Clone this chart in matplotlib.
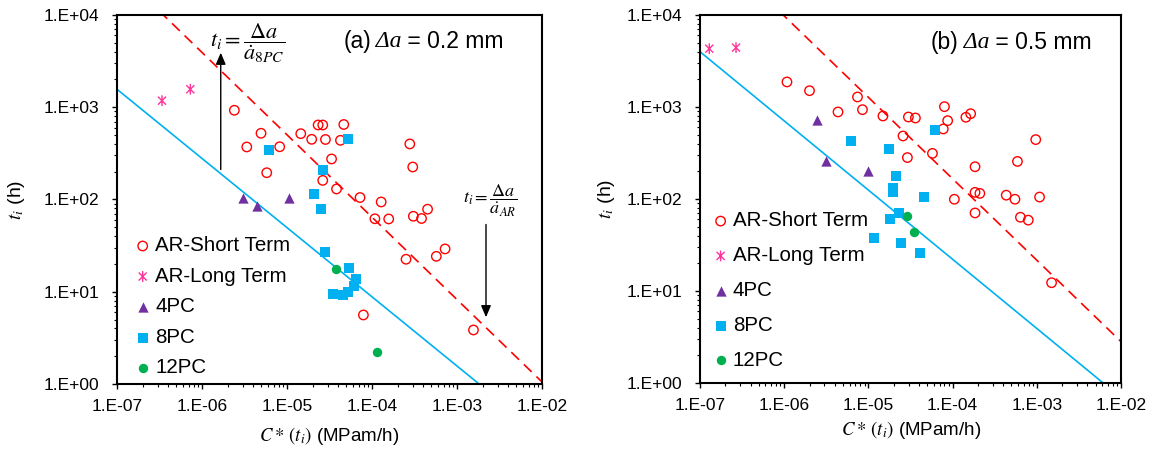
import numpy as np
import matplotlib.pyplot as plt
from matplotlib.path import Path
from matplotlib.ticker import LogLocator, FuncFormatter, NullFormatter

plt.rcParams['font.family'] = ['Liberation Sans', 'DejaVu Sans']
plt.rcParams['mathtext.fontset'] = 'stix'

# ---- (a) da = 0.2 mm ----
a_short_c = [2.40e-6, 4.94e-6, 3.36e-6, 8.2e-6, 5.77e-6, 1.45e-5, 1.95e-5, 2.32e-5, 2.63e-5, 2.83e-5,
             4.65e-5, 4.25e-5, 3.34e-5, 2.63e-5, 3.82e-5, 7.22e-5, 1.28e-4, 1.08e-4, 1.57e-4, 2.78e-4,
             3.01e-4, 3.06e-4, 3.82e-4, 4.50e-4, 2.51e-4, 5.70e-4, 7.23e-4, 7.91e-5, 1.56e-3]
a_short_t = [927, 522, 371, 373, 195, 517, 449, 642, 642, 447,
             650, 438, 275, 161, 130, 105, 94, 61.8, 61.5, 400,
             225, 65.8, 62.2, 78.5, 22.5, 24.2, 29.1, 5.6, 3.85]
a_long_c = [3.38e-7, 7.28e-7]
a_long_t = [1178, 1566]
a_4pc_c = [3.03e-6, 4.48e-6, 1.06e-5]
a_4pc_t = [103, 85.1, 104]
a_8pc_c = [6.14e-6, 5.22e-5, 2.62e-5, 2.08e-5, 2.51e-5, 2.83e-5, 5.36e-5, 6.49e-5, 6.14e-5, 5.26e-5,
           4.59e-5, 3.51e-5]
a_8pc_t = [344, 449, 207, 114, 79.5, 27.0, 17.9, 13.7, 11.5, 10.0, 9.2, 9.4]
a_12pc_c = [3.77e-5, 1.13e-4]
a_12pc_t = [17.5, 2.21]
# trend lines t = A * C^-m
a_ar_fit = (0.0172, 0.893)
a_8pc_fit = (0.0088, 0.75)

# ---- (b) da = 0.5 mm ----
b_short_c = [1.08e-6, 2.0e-6, 4.36e-6, 7.43e-6, 8.51e-6, 1.49e-5, 2.58e-5, 2.91e-5, 2.99e-5, 3.62e-5,
             5.77e-5, 8.01e-5, 8.75e-5, 7.76e-5, 1.44e-4, 1.64e-4, 1.85e-4, 5.90e-4, 9.73e-4, 1.05e-4,
             1.85e-4, 2.11e-4, 4.34e-4, 5.51e-4, 1.08e-3, 1.85e-4, 6.40e-4, 7.93e-4, 1.50e-3]
b_short_t = [1871, 1503, 883, 1285, 935, 798, 484, 282, 778, 759,
             313, 1008, 710, 577, 773, 845, 224, 256, 442, 99.3,
             118, 115, 110, 99.3, 105, 70.5, 63.3, 58.9, 12.3]
b_long_c = [1.29e-7, 2.68e-7]
b_long_t = [4300, 4420]
b_4pc_c = [2.43e-6, 3.18e-6, 1.00e-5]
b_4pc_t = [716, 261, 200]
b_8pc_c = [6.21e-6, 1.76e-5, 6.18e-5, 2.13e-5, 1.95e-5, 1.95e-5, 4.57e-5, 2.33e-5, 1.81e-5, 1.16e-5,
           2.44e-5, 4.10e-5]
b_8pc_t = [430, 352, 560, 179, 133, 120, 106, 71.0, 60.7, 37.4, 33.5, 26.1]
b_12pc_c = [2.90e-5, 3.51e-5]
b_12pc_t = [65.3, 43.7]
b_ar_fit = (10 ** -1.320, 0.885)
b_8pc_fit = (10 ** -1.663, 0.752)

labels = ['AR-Short Term', 'AR-Long Term', '4PC', '8PC', '12PC']
star = Path([(0, -1), (0, 1), (-0.75, -0.75), (0.75, 0.75), (-0.75, 0.75), (0.75, -0.75)],
            [Path.MOVETO, Path.LINETO, Path.MOVETO, Path.LINETO, Path.MOVETO, Path.LINETO])

def fmt(v, pos):
    e = int(round(np.log10(v)))
    return f"1.E{e:+03d}"

def panel(ax, short, long_, p4, p8, p12, ar_fit, pc_fit):
    xs = np.logspace(-7, -2, 200)
    ax.plot(xs, ar_fit[0] * xs ** -ar_fit[1], color='#FF0000', lw=1.2, dashes=(6.5, 4), zorder=1)
    ax.plot(xs, pc_fit[0] * xs ** -pc_fit[1], color='#00B0F0', lw=1.2, zorder=1)
    h = []
    h.append(ax.scatter(*short, s=46, facecolors='none', edgecolors='#FF0000', linewidths=1.0, zorder=3))
    h.append(ax.scatter(*long_, s=60, marker=star, facecolors='none', edgecolors='#FF3399', linewidths=1.0, zorder=3))
    h.append(ax.scatter(*p4, s=55, marker='^', color='#7030A0', linewidths=0, zorder=3))
    h.append(ax.scatter(*p8, s=50, marker='s', color='#00B0F0', linewidths=0, zorder=3))
    h.append(ax.scatter(*p12, s=46, marker='o', color='#00B050', linewidths=0, zorder=3))
    ax.set_xscale('log')
    ax.set_yscale('log')
    ax.set_xlim(1e-7, 1e-2)
    ax.set_ylim(1, 1e4)
    for axis in (ax.xaxis, ax.yaxis):
        axis.set_major_locator(LogLocator(base=10, numticks=20))
        axis.set_minor_locator(LogLocator(base=10, subs=np.arange(2, 10), numticks=20))
        axis.set_major_formatter(FuncFormatter(fmt))
        axis.set_minor_formatter(NullFormatter())
    ax.tick_params(which='major', direction='out', length=3.5, width=1, labelsize=12.5)
    ax.tick_params(axis='x', which='major', pad=7)
    ax.tick_params(axis='y', which='major', pad=9)
    ax.tick_params(which='minor', direction='out', length=2.2, width=0.8)
    for sp in ax.spines.values():
        sp.set_linewidth(1.5)
    ax.set_ylabel(r'$t_i$ (h)', fontsize=14)
    ax.set_xlabel(r'$C*\,(t_i)$ (MPam/h)', fontsize=13.5)
    return h

def title(ax, x, y, pre, post):
    t1 = ax.text(x, y, pre, transform=ax.transAxes, ha='left', va='center', fontsize=16.5)
    t2 = ax.annotate('\u2009\u0394a', xy=(1, 0.5), xycoords=t1, ha='left', va='center', fontsize=17,
                     family='Liberation Serif', style='italic')
    ax.annotate(post, xy=(1, 0.5), xycoords=t2, ha='left', va='center', fontsize=16.5)

fig = plt.figure(figsize=(11.61, 4.58), dpi=100)
axa = fig.add_axes([0.1008, 0.1616, 0.3661, 0.8057])
axb = fig.add_axes([0.6029, 0.1638, 0.3626, 0.8035])

ha = panel(axa, (a_short_c, a_short_t), (a_long_c, a_long_t), (a_4pc_c, a_4pc_t),
           (a_8pc_c, a_8pc_t), (a_12pc_c, a_12pc_t), a_ar_fit, a_8pc_fit)
hb = panel(axb, (b_short_c, b_short_t), (b_long_c, b_long_t), (b_4pc_c, b_4pc_t),
           (b_8pc_c, b_8pc_t), (b_12pc_c, b_12pc_t), b_ar_fit, b_8pc_fit)

axa.yaxis.set_label_coords(-0.212, 0.5)
axa.xaxis.set_label_coords(0.499, -0.111)
axb.yaxis.set_label_coords(-0.197, 0.5)
axb.xaxis.set_label_coords(0.501, -0.098)

axa.legend(ha, labels, loc='upper left', bbox_to_anchor=(0.041, 0.4), frameon=False, fontsize=14.8,
           handlelength=0.8, handletextpad=0.2, borderpad=0, borderaxespad=0, labelspacing=0.56)
axb.legend(hb, labels, loc='upper left', bbox_to_anchor=(0.0295, 0.466), frameon=False, fontsize=14.8,
           handlelength=0.8, handletextpad=0.2, borderpad=0, borderaxespad=0, labelspacing=0.77)

title(axa, 0.532, 0.927, '(a)', ' = 0.2 mm')
title(axb, 0.549, 0.924, '(b)', ' = 0.5 mm')

# arrows and rate expressions
axa.annotate('', xy=(1.66e-6, 4180), xytext=(1.66e-6, 197),
             arrowprops=dict(arrowstyle='-|>,head_width=0.3,head_length=0.7', color='black', lw=1.0))
axa.annotate('', xy=(2.19e-3, 4.94), xytext=(2.19e-3, 57.4),
             arrowprops=dict(arrowstyle='-|>,head_width=0.3,head_length=0.7', color='black', lw=1.0))
axa.text(0.308, 0.925, r'$t_i = \dfrac{\Delta a}{\dot{a}_{8PC}}$', transform=axa.transAxes,
         ha='center', va='center', fontsize=16)
axa.text(0.878, 0.496, r'$t_i = \dfrac{\mathit{\Delta}a}{\dot{a}_{AR}}$', transform=axa.transAxes,
         ha='center', va='center', fontsize=13)

fig.savefig('out.png', dpi=100)
